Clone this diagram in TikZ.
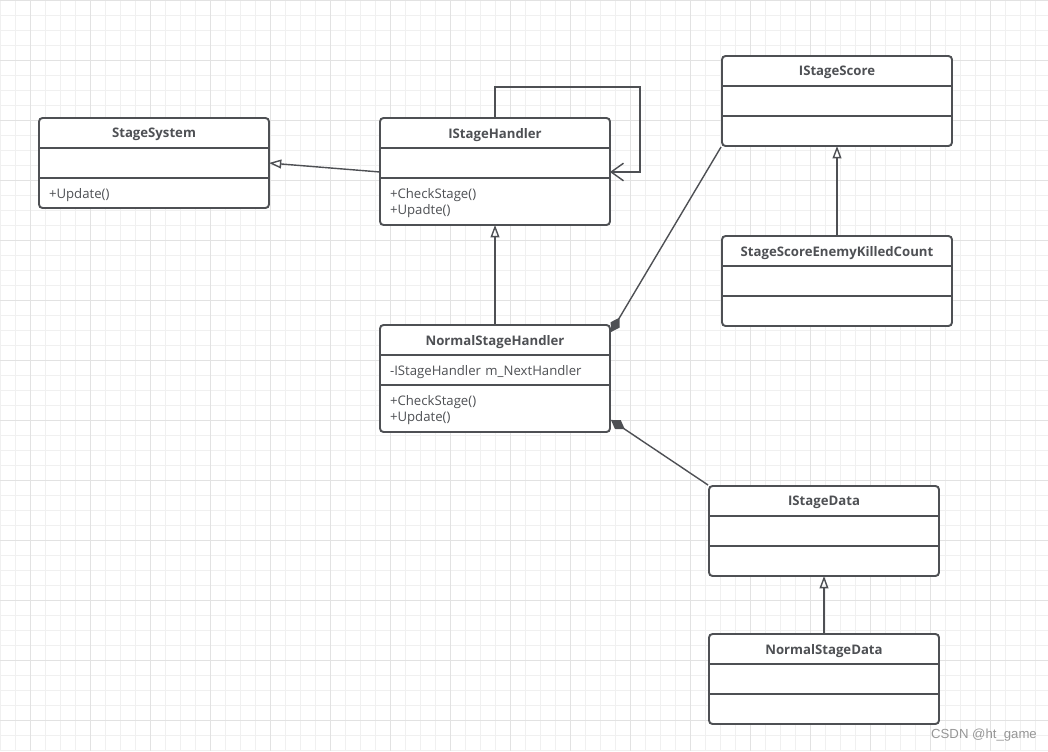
\documentclass[tikz,border=0pt]{standalone}
\usepackage{fontspec}
\setmainfont{Open Sans}
\newfontfamily\markfont{Liberation Sans}
\usepackage{xcolor}
\definecolor{ink}{RGB}{78,80,84}
\definecolor{gridminor}{RGB}{240,240,240}
\definecolor{gridmajor}{RGB}{226,226,226}
\definecolor{markgray}{RGB}{150,150,150}
\usepackage{tikz}
\usetikzlibrary{positioning, fit, calc, arrows.meta}
\tikzstyle{part} = [
    rectangle, fill=white, text=ink,
    outer sep=0pt, inner xsep=0.2cm, inner ysep=0pt,
    text width=4.2cm, text depth=0pt,
    minimum height=0.6cm,
    font=\fontsize{7.5}{9.1}\selectfont,
]
\tikzstyle{classname} = [
    part, align=center,
    font=\fontsize{7.5}{9.1}\selectfont\bfseries,
]
\tikzstyle{member} = [
    part, align=left,
]
\tikzstyle{members} = [
    member,
    text depth=9.1pt,
    minimum height=0.94cm,
]
\tikzstyle{classbox} = [
    draw=ink, line width=1.1pt,
    rounded corners=2pt, inner sep=0pt,
]
\tikzstyle{divider} = [draw=ink, line width=1.1pt]
\tikzstyle{wire} = [draw=ink, line width=0.8pt]
\tikzstyle{inherit} = [wire, -{Triangle[open, length=7pt, width=5pt]}]
\tikzstyle{assoc} = [wire, -{Straight Barb[length=7pt, width=10pt]}]
\tikzstyle{compose} = [wire, {Diamond[length=9.5pt, width=6pt]}-]

\begin{document}
\begin{tikzpicture}[x=0.02cm, y=-0.02cm]
    \useasboundingbox (0,0) rectangle (1048,751);

    % grid
    \foreach \gx in {0,15,...,1045}
        \draw [gridminor, line width=0.45pt] (\gx,0) -- (\gx,751);
    \foreach \gy in {0,15,...,750}
        \draw [gridminor, line width=0.45pt] (0,\gy) -- (1048,\gy);
    \foreach \gx in {30,90,...,1010}
        \draw [gridmajor, line width=0.55pt] (\gx,0) -- (\gx,751);
    \foreach \gy in {0,60,...,720}
        \draw [gridmajor, line width=0.55pt] (0,\gy) -- (1048,\gy);

    % classes with members
    \node (sys) at (154,133) [classname] {StageSystem};
    \node (sys-a) [member, below=0pt of sys] {};
    \node (sys-m) [member, below=0pt of sys-a] {+Update()};

    \node (handler) at (495,133) [classname] {IStageHandler};
    \node (handler-a) [member, below=0pt of handler] {};
    \node (handler-m) [members, below=0pt of handler-a] {+CheckStage()\\+Upadte()};

    \node (normal) at (495,340) [classname] {NormalStageHandler};
    \node (normal-a) [member, below=0pt of normal] {-IStageHandler m\_NextHandler};
    \node (normal-m) [members, below=0pt of normal-a] {+CheckStage()\\+Update()};

    % empty classes
    \foreach \id/\cx/\cy/\name in {score/837/71/IStageScore,
            killed/837/251/StageScoreEnemyKilledCount,
            data/824/501/IStageData,
            normaldata/824/649/NormalStageData} {
        \node (\id) at (\cx,\cy) [classname] {\name};
        \node (\id-a) [member, below=0pt of \id] {};
        \node (\id-m) [member, below=0pt of \id-a] {};
    }

    % frames
    \foreach \id in {sys,handler,normal,score,killed,data,normaldata} {
        \node (\id box) [classbox, fit=(\id)(\id-m)] {};
        \draw [divider] (\id-a.north west) -- (\id-a.north east);
        \draw [divider] (\id-a.south west) -- (\id-a.south east);
    }

    % arrows
    \draw [inherit] ($(handler-a.west)+(0,9)$) to (sys-a.east);
    \draw [assoc] (handler.north) -- ++(0,-31) -- ++(145,0) |- ($(handler-a.east)+(0,9)$);
    \draw [inherit] (normal.north) to (handler-m.south);
    \draw [inherit] (killed.north) to (score-m.south);
    \draw [inherit] (normaldata.north) to (data-m.south);
    \draw [compose] ($(normalbox.north east)+(0,8)$) to (scorebox.south west);
    \draw [compose] ($(normalbox.south east)+(0,-13)$) to (databox.north west);

    \node (mark) at (984,735) [font=\markfont\fontsize{7.5}{9}\selectfont, text=markgray] {CSDN @ht\_game};
\end{tikzpicture}
\end{document}
